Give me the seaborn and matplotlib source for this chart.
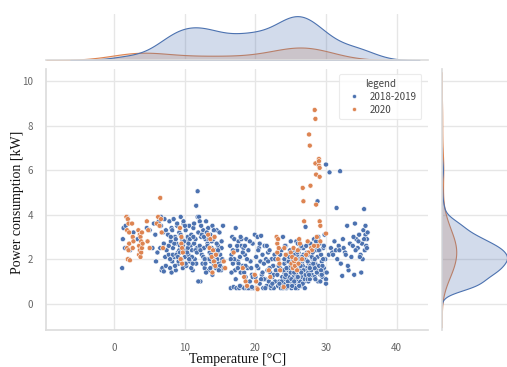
import matplotlib
matplotlib.use("Agg")
import matplotlib.pyplot as plt
import pandas as pd
import seaborn as sns

# 2018-2019 readings, grouped by temperature band (one line of temps <-> one line of powers)
temp_1819 = [
    1.1, 1.2, 1.3, 1.5, 1.6, 1.8, 2.0, 2.2,
    2.7, 3.3, 4.6, 5.0, 5.4,
    5.6, 5.8, 5.9, 6.1, 6.3, 6.5, 6.6, 6.7, 6.8,
    6.9, 7.0, 7.0, 7.1, 7.2, 7.3, 7.3, 7.4, 6.6,
    7.6, 7.7, 7.8, 7.9, 8.0, 8.1, 8.2, 8.3, 8.4, 8.5,
    8.6, 8.7, 8.8, 8.9, 9.0, 9.1, 9.2, 9.3, 9.4, 9.5,
    9.6, 9.7, 9.8, 9.9, 10.0, 10.1, 10.2, 10.3, 10.4, 10.5,
    10.6, 10.7, 10.8, 10.9, 11.0, 11.1, 11.2, 11.3, 11.4, 11.5,
    11.6, 11.7, 11.8, 11.9, 7.7, 8.0, 8.3, 8.6, 8.9, 9.2,
    9.5, 9.8, 10.1, 10.4, 10.7, 11.0, 11.3, 11.6, 7.9, 8.2,
    8.5, 8.8, 9.1, 9.4, 9.7, 10.0, 10.3, 10.6, 10.9, 11.2,
    11.5, 11.8, 8.1, 8.7, 9.3, 9.9, 10.5, 11.1, 11.7, 9.0,
    12.0, 12.1, 12.2, 12.3, 12.4, 12.5, 12.6, 12.7, 12.8, 12.9,
    13.0, 13.1, 13.2, 13.3, 13.4, 13.5, 13.6, 13.7, 13.8, 13.9,
    14.0, 14.1, 14.2, 14.3, 14.4, 14.5, 14.6, 14.7, 14.8, 14.9,
    15.0, 15.1, 15.2, 15.3, 15.4, 12.2, 12.6, 13.0, 13.4, 13.8,
    14.2, 14.6, 15.0, 12.4, 12.8, 13.2, 13.6, 14.0, 14.4, 14.8,
    15.2, 12.1, 12.9, 13.7, 14.5, 15.3, 11.9, 12.3, 13.1, 13.9,
    14.7, 15.5, 13.5, 12.7, 14.1,
    16.4, 16.5, 16.6, 16.7, 16.8, 16.9, 17.0, 17.1, 17.2, 17.3,
    17.4, 17.5, 17.6, 17.7, 17.8, 17.9, 18.0, 18.1, 18.2, 18.3,
    18.4, 18.5, 18.6, 18.7, 18.8, 18.9, 19.0, 19.1, 19.2, 19.3,
    19.4, 19.5, 19.6, 19.7, 16.6, 17.0, 17.4, 17.8, 18.2, 18.6,
    19.0, 19.4, 16.8, 17.2, 17.6, 18.0, 18.4, 18.8, 19.2, 19.6,
    16.5, 17.5, 18.5, 19.5, 17.9,
    19.9, 20.0, 20.1, 20.2, 20.3, 20.4, 20.5, 20.6, 20.7, 20.8,
    20.9, 21.0, 21.1, 21.2, 21.3, 21.4, 21.5, 21.6, 21.7, 21.8,
    21.9, 22.0, 22.1, 22.2, 22.3, 22.4, 22.5, 22.6, 22.7, 22.8,
    22.9, 20.2, 20.6, 21.0, 21.4, 21.8, 22.2, 22.6, 20.4, 21.2,
    22.0, 22.8, 20.8, 21.6, 22.4,
    23.1, 23.2, 23.3, 23.4, 23.5, 23.6, 23.7, 23.8, 23.9, 24.0,
    24.1, 24.2, 24.3, 24.4, 24.5, 24.6, 24.7, 24.8, 24.9, 25.0,
    25.1, 25.2, 25.3, 25.4, 25.5, 25.6, 25.7, 25.8, 25.9, 26.0,
    26.1, 26.2, 26.3, 26.4, 26.5, 26.6, 26.7, 26.8, 26.9, 27.0,
    27.1, 27.2, 23.3, 23.7, 24.1, 24.5, 24.9, 25.3, 25.7, 26.1,
    26.5, 26.9, 23.5, 23.9, 24.3, 24.7, 25.1, 25.5, 25.9, 26.3,
    26.7, 27.1, 24.0, 24.6, 25.2, 25.8, 26.4, 27.0, 23.4, 24.8,
    25.6, 26.2, 26.8, 25.0, 24.2,
    24.1, 24.3, 24.5, 24.7, 24.9, 25.1, 25.3, 25.5, 25.7, 25.9,
    26.1, 26.3, 26.5, 26.7, 26.9, 27.1, 27.3, 27.5, 24.2, 24.6,
    25.0, 25.4, 25.8, 26.2, 26.6, 27.0, 27.4, 24.4, 24.8, 25.2,
    25.6, 26.0, 26.4, 26.8, 27.2, 25.5, 26.0, 26.5, 25.0, 27.6,
    27.4, 27.5, 27.6, 27.7, 27.8, 27.9, 28.0, 28.1, 28.2, 28.3,
    28.4, 28.5, 28.6, 28.7, 28.8, 28.9, 29.0, 29.1, 29.2, 29.3,
    29.4, 29.5, 29.6, 29.7, 29.8, 29.9, 30.0, 27.5, 27.9, 28.3,
    28.7, 29.1, 29.5, 29.9, 27.6, 28.0, 28.4, 28.8, 29.2, 29.6,
    30.0, 27.7, 28.1, 28.5, 28.9, 29.3, 29.7, 28.2, 28.6, 29.0,
    28.8, 30.1, 29.4, 27.8, 28.4,
    30.0, 30.5, 32.0, 31.5, 35.4, 34.1, 30.4, 30.7, 30.9, 31.2,
    31.4, 31.6, 31.8, 32.1, 32.3, 32.5, 32.7, 33.0, 33.2, 33.4,
    33.6, 33.8, 34.0, 34.3, 34.5, 34.7, 34.9, 35.1, 35.3, 35.5,
    35.6, 35.7, 35.8, 35.9, 35.2, 35.0, 34.6, 34.2, 33.9, 33.1,
    32.8, 32.4, 31.9, 31.0, 35.6, 35.8, 35.4, 34.8,
]
power_1819 = [
    1.6, 2.9, 3.4, 2.5, 3.5, 3.9, 2.0, 2.4,
    3.2, 2.9, 3.4, 3.3, 2.5,
    3.6, 3.1, 1.9, 2.3, 3.7, 2.5, 3.5, 1.5, 1.6,
    3.2, 1.45, 2.7, 3.8, 2.1, 3.3, 1.7, 2.4, 3.9,
    3.1, 2.2, 3.7, 1.6, 2.8, 3.4, 1.9, 2.5, 3.8, 2.1,
    3.0, 1.5, 2.7, 3.5, 2.3, 1.8, 3.2, 2.6, 3.9, 2.0,
    2.9, 1.6, 3.6, 2.4, 2.1, 3.3, 1.7, 2.8, 3.0, 2.2,
    3.5, 1.9, 2.6, 3.1, 2.4, 1.5, 3.4, 2.7, 2.0, 2.9,
    1.8, 2.5, 5.05, 3.2, 2.6, 3.0, 2.2, 1.7, 3.6, 2.4,
    2.0, 3.7, 1.8, 2.5, 2.9, 2.1, 3.6, 4.4, 2.0, 3.3,
    2.7, 2.2, 1.9, 3.1, 2.6, 3.5, 2.3, 2.0, 1.6, 3.0,
    2.4, 3.9, 1.4, 2.9, 2.3, 2.8, 2.7, 1.8, 2.3, 2.1,
    3.9, 2.6, 1.0, 3.0, 2.2, 1.8, 3.3, 2.5, 1.6, 2.9,
    3.7, 2.0, 2.7, 3.4, 1.5, 2.3, 3.1, 1.9, 2.8, 3.5,
    2.1, 1.7, 3.0, 2.4, 1.6, 3.3, 2.0, 2.6, 1.8, 3.2,
    2.2, 1.5, 2.8, 1.9, 3.5, 2.4, 2.1, 1.4, 2.9, 2.5,
    1.9, 2.3, 1.7, 3.1, 2.0, 2.6, 1.6, 2.9, 2.2, 1.5,
    2.5, 3.7, 1.8, 2.2, 2.7, 2.0, 1.0, 3.5, 3.2, 1.3,
    2.4, 1.6, 2.0, 3.0, 3.3,
    2.6, 0.7, 2.2, 3.0, 1.8, 0.75, 2.9, 1.5, 3.4, 0.7,
    2.4, 1.9, 2.8, 0.7, 2.1, 1.4, 2.6, 0.75, 1.7, 2.5,
    0.7, 2.2, 1.2, 2.9, 0.7, 1.6, 2.4, 0.7, 1.0, 1.9,
    0.7, 1.3, 2.7, 0.7, 1.4, 2.0, 2.6, 0.8, 2.3, 1.7,
    0.7, 1.6, 2.4, 1.1, 1.8, 2.9, 1.4, 2.0, 2.8, 1.2,
    2.0, 1.6, 2.6, 0.75, 3.0,
    3.1, 1.2, 2.1, 0.7, 3.0, 1.6, 2.5, 0.9, 1.9, 3.05,
    1.3, 2.2, 0.7, 1.8, 2.6, 1.1, 2.0, 0.8, 1.5, 2.3,
    1.0, 2.4, 1.4, 0.7, 2.0, 1.2, 1.7, 0.7, 2.2, 1.0,
    1.5, 1.7, 2.7, 1.4, 0.7, 1.9, 0.8, 1.3, 2.4, 1.1,
    1.6, 2.0, 1.1, 2.6, 0.9,
    1.3, 0.8, 2.0, 1.0, 1.6, 0.7, 2.4, 1.2, 3.0, 0.9,
    1.8, 1.1, 2.6, 0.7, 1.5, 2.2, 0.8, 1.3, 2.0, 1.0,
    0.7, 1.7, 2.4, 1.2, 0.8, 1.9, 1.4, 2.8, 1.0, 0.7,
    2.1, 1.5, 1.1, 2.5, 0.8, 1.8, 1.3, 2.2, 1.0, 0.7,
    3.45, 1.6, 1.7, 1.0, 1.4, 1.9, 1.1, 0.8, 1.6, 2.3,
    1.2, 1.5, 2.2, 0.7, 2.1, 1.2, 1.8, 0.9, 2.2, 1.0,
    1.7, 2.0, 1.5, 1.0, 2.1, 1.3, 1.7, 1.1, 0.9, 1.6,
    2.0, 0.8, 2.5, 1.4, 1.2,
    2.0, 1.3, 0.75, 1.9, 2.4, 1.1, 2.0, 1.4, 0.7, 2.3,
    1.2, 1.9, 2.6, 0.9, 2.0, 1.3, 2.3, 1.0, 2.6, 0.8,
    1.7, 2.2, 1.1, 0.8, 2.1, 1.5, 1.1, 1.6, 2.1, 0.8,
    1.8, 1.2, 2.0, 1.5, 2.6, 1.0, 2.7, 1.4, 2.8, 1.8,
    1.9, 1.4, 2.3, 1.1, 1.7, 2.6, 1.3, 2.0, 1.6, 2.9,
    1.2, 1.8, 2.4, 1.5, 2.1, 1.0, 1.7, 2.7, 1.3, 2.2,
    1.9, 1.2, 2.5, 1.6, 3.1, 2.0, 1.1, 2.2, 1.5, 1.9,
    1.4, 2.4, 1.7, 1.4, 1.3, 2.1, 1.6, 2.5, 1.0, 2.0,
    0.9, 1.6, 2.3, 1.1, 3.0, 1.5, 2.6, 1.8, 2.8, 2.4,
    4.6, 1.4, 1.3, 2.7, 2.0,
    6.25, 5.9, 5.95, 4.3, 4.25, 3.6, 2.2, 2.5, 2.3, 2.8,
    2.4, 2.0, 2.6, 1.8, 1.25, 2.5, 2.3, 3.5, 1.5, 2.7,
    2.1, 2.6, 1.3, 2.9, 2.5, 3.1, 2.2, 2.7, 3.3, 2.4,
    3.1, 2.6, 2.9, 3.2, 2.0, 1.4, 2.8, 2.4, 3.0, 1.7,
    2.2, 2.9, 2.4, 2.2, 3.5, 2.5, 2.9, 2.1,
]

# 2020 readings lying inside the dense 2018-2019 cloud (drawn underneath)
temp_2020_low = [
    24.5, 25.1, 25.7, 26.3, 26.9, 27.5, 28.1, 28.7,
    24.8, 25.4, 26.0, 26.6, 27.2, 27.8, 28.4,
]
power_2020_low = [
    1.2, 1.3, 1.5, 1.7, 1.6, 1.8, 1.7, 1.6,
    1.6, 1.1, 1.2, 1.4, 1.3, 1.5, 1.9,
]

# remaining 2020 readings
temp_2020 = [
    1.7, 1.8, 1.8, 1.9, 1.9, 2.0, 2.0, 2.1, 2.1, 2.2,
    2.5, 2.6, 2.6, 2.7, 3.4, 3.5, 3.5, 3.6, 3.6, 3.7,
    3.7, 3.8, 3.8, 3.9, 3.9, 4.0, 4.6, 4.7, 4.8, 5.0,
    6.0, 6.2, 6.4, 6.5, 6.6, 6.7, 6.9, 9.3, 9.4, 9.5,
    9.5, 9.6, 9.6, 9.7, 13.3, 13.5, 13.6, 13.8, 13.9, 14.0,
    14.1, 14.2, 14.3, 14.4, 15.5, 15.7, 16.9, 18.2, 18.4, 18.6,
    18.8, 19.9, 20.1, 20.2, 20.3, 21.9, 22.1, 23.0, 23.1, 23.1,
    23.2, 23.2, 23.3, 23.4, 23.5, 24.0, 24.1, 24.3, 25.0, 25.1,
    25.2, 25.3, 25.4, 25.5, 25.6, 25.7, 25.9, 26.0, 26.1, 26.2,
    26.3, 26.6, 26.7, 26.8, 26.9, 27.4, 27.6, 27.7, 27.8, 27.9,
    28.0, 28.4, 28.5, 28.5, 28.6, 28.6, 28.7, 28.8, 29.0, 29.0,
    29.0, 29.1, 29.1, 29.1, 29.2, 29.2, 30.0, 28.3, 27.5, 27.2,
]
power_2020 = [
    3.9, 3.3, 2.5, 3.8, 2.0, 3.6, 2.4, 3.2, 2.7, 1.95,
    3.6, 3.0, 2.5, 2.8, 3.3, 2.6, 2.2, 3.1, 2.4, 3.0,
    2.1, 2.8, 2.3, 3.2, 2.5, 2.7, 3.7, 2.8, 3.3, 2.5,
    3.6, 3.9, 3.5, 4.75, 3.8, 3.2, 2.5, 3.4, 2.0, 2.7,
    3.0, 2.5, 1.8, 2.3, 3.1, 2.5, 2.9, 2.1, 1.4, 2.4,
    1.9, 3.0, 1.7, 2.2, 1.9, 1.6, 2.3, 1.6, 1.2, 1.0,
    0.8, 1.3, 1.0, 0.7, 0.65, 1.5, 1.2, 3.0, 2.7, 2.3,
    2.9, 2.0, 2.5, 1.8, 1.5, 0.75, 2.5, 2.2, 2.3, 1.8,
    2.1, 1.6, 2.5, 1.9, 1.7, 2.0, 1.5, 2.4, 1.8, 2.9,
    2.7, 2.0, 5.2, 4.6, 3.7, 2.8, 7.6, 7.1, 5.3, 2.5,
    2.4, 8.7, 8.3, 6.3, 5.8, 4.45, 3.0, 2.6, 6.5, 6.4,
    6.2, 6.1, 5.7, 3.7, 3.5, 2.8, 3.15, 2.6, 2.3, 2.2,
]

# draw order: hidden 2020 points, then 2018-2019, then the other 2020 points on top
df = pd.concat([
    pd.DataFrame({"temp": temp_2020_low, "power": power_2020_low, "legend": "2020"}),
    pd.DataFrame({"temp": temp_1819, "power": power_1819, "legend": "2018-2019"}),
    pd.DataFrame({"temp": temp_2020, "power": power_2020, "legend": "2020"}),
], ignore_index=True)

sns.set_theme(style="whitegrid")
plt.rcParams["font.family"] = ["Noto Sans CJK JP", "DejaVu Sans"]
plt.rcParams["grid.color"] = "#e6e6e6"
plt.rcParams["axes.edgecolor"] = "#dddddd"

g = sns.jointplot(data=df, x="temp", y="power", hue="legend",
                  hue_order=["2018-2019", "2020"],
                  joint_kws=dict(s=13, linewidth=0.4, edgecolor="white"),
                  marginal_kws=dict(linewidth=0.8))
g.fig.set_size_inches(5.07, 3.67)
g.fig.set_dpi(100)

ax = g.ax_joint
ax.set_position([0.0907, 0.1008, 0.7540, 0.7112])
g.ax_marg_x.set_position([0.0907, 0.8365, 0.7540, 0.1255])
g.ax_marg_y.set_position([0.8712, 0.1008, 0.1353, 0.7112])

ax.set_xlim(-9.7, 44.5)
ax.set_ylim(-1.18, 10.54)
ax.set_xticks([0, 10, 20, 30, 40])
ax.set_yticks([0, 2, 4, 6, 8, 10])
ax.tick_params(labelsize=7, colors="#666666", pad=3)

serif = ["Liberation Serif", "DejaVu Serif"]
ax.set_xlabel("Temperature [°C]", fontsize=10, family=serif, color="#111111")
ax.set_ylabel("Power consumption [kW]", fontsize=10, family=serif, color="#111111")
ax.xaxis.set_label_coords(0.5, -0.088)
ax.yaxis.set_label_coords(-0.058, 0.49)

g.ax_marg_y.margins(x=0.05)
g.ax_marg_y.set_xlim(left=0)

leg = ax.legend(title="legend", loc="upper right", fontsize=7, title_fontsize=7,
                frameon=True, markerscale=0.8, borderpad=0.5, labelspacing=0.3,
                handletextpad=0.6, bbox_to_anchor=(0.995, 1.0))
leg.get_frame().set_edgecolor("#e6e6e6")
leg.get_frame().set_linewidth(0.8)
for t in leg.get_texts():
    t.set_color("#444444")
leg.get_title().set_color("#444444")

g.fig.savefig("out.png", dpi=100)
